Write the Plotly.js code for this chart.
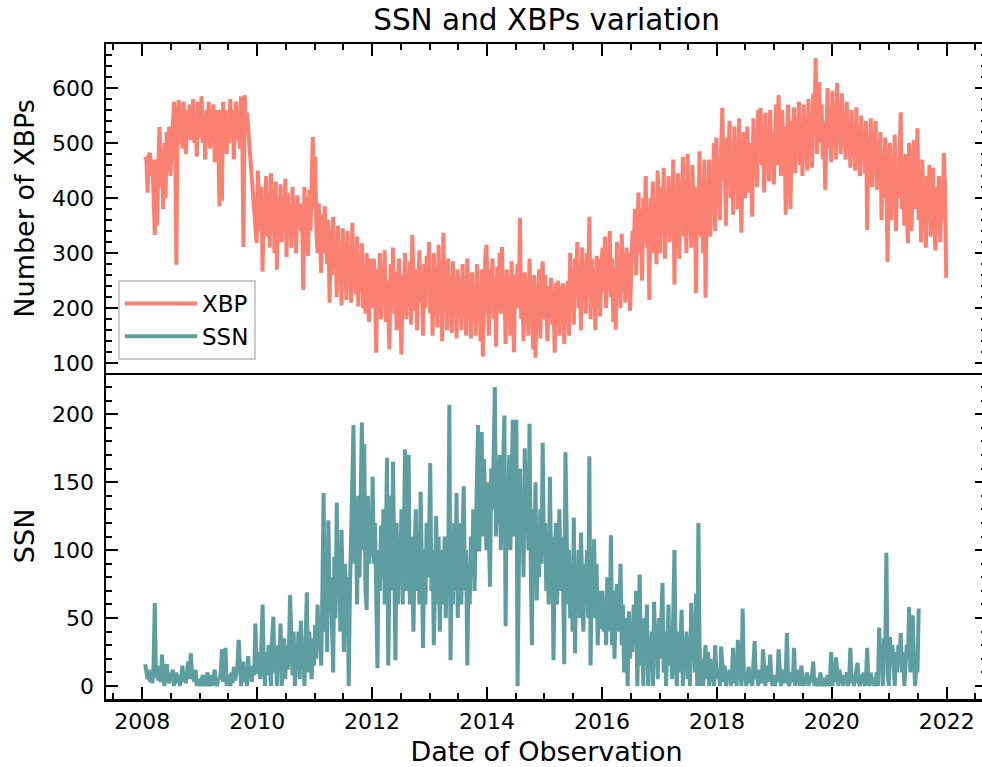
<!DOCTYPE html>
<html>
<head>
<meta charset="utf-8">
<script src="https://cdn.plot.ly/plotly-3.0.1.min.js"></script>
<style>
  html, body { margin: 0; padding: 0; overflow: hidden; background: #fff; }
  #chart { width: 992px; height: 767px; }
</style>
</head>
<body>
<div id="chart"></div>
<script>
// Weekly-ish samples, 48 per calendar year (null = no observation)
const years = [2008, 2009, 2010, 2011, 2012, 2013, 2014, 2015, 2016, 2017, 2018, 2019, 2020, 2021];

// Number of X-ray bright points
const xbp2008 = [null, null, 475, 470, 410, 478, 482, 440, 470, 360, 333, 470,
                 350, 460, 529, 420, 480, 380, 500, 400, 520, 450, 530, 440,
                 500, 560, 575, 520, 279, 540, 578, 500, 560, 490, 575, 530,
                 480, 560, 520, 570, 505, 545, 580, 500, 550, 475, 575, 520];
const xbp2009 = [510, 585, 500, 550, 470, 560, 520, 575, 490, 545, 515, 570,
                 465, 540, 560, 500, 385, 560, 395, 575, 510, 560, 480, 545,
                 500, 580, 520, 560, 470, 550, 575, 505, 540, 490, 585, 520,
                 311, 587, 540, 555, null, null, null, null, null, null, null, 318];
const xbp2010 = [450, 380, 340, 420, 266, 400, 350, 440, 330, 395, 310, 445,
                 360, 410, 300, 430, 270, 390, 340, 425, 320, 400, 350, 435,
                 293, 410, 340, 390, 310, 420, 350, 380, 300, 405, 360, 390,
                 340, 390, 233, 420, 330, 400, 295, 415, 340, 428, 511, 380];
const xbp2011 = [475, 340, 300, 390, 320, 264, 370, 300, 385, 330, 280, 360,
                 210, 340, 260, 366, 280, 330, 220, 350, 250, 310, 205, 345,
                 260, 320, 215, 340, 250, 300, 210, 355, 240, 310, 225, 330,
                 203, 300, 230, 318, 200, 280, 190, 300, 220, 175, 290, 240];
const xbp2012 = [200, 290, 230, 119, 270, 210, 300, 180, 260, 220, 305, 175,
                 250, 200, 125, 280, 210, 310, 190, 265, 160, 240, 290, 200,
                 116, 260, 220, 300, 180, 250, 205, 285, 170, 333, 230, 195,
                 270, 160, 240, 305, 210, 260, 150, 280, 200, 295, 230, 320];
const xbp2013 = [190, 260, 150, 300, 220, 250, 165, 315, 200, 270, 140, 337,
                 210, 260, 160, 290, 190, 240, 155, 285, 215, 250, 145, 270,
                 190, 250, 160, 280, 200, 230, 150, 290, 210, 245, 145, 265,
                 185, 240, 150, 280, 200, 250, 140, 270, 112, 230, 290, 315];
const xbp2014 = [200, 150, 270, 220, 290, 180, 250, 130, 275, 210, 300, 190,
                 311, 200, 250, 135, 270, 215, 240, 150, 285, 200, 120, 260,
                 230, 280, 200, 364, 180, 240, 140, 265, 210, 250, 150, 290,
                 200, 240, 125, 260, 110, 230, 190, 270, 145, 250, 285, 180];
const xbp2015 = [260, 200, 140, 240, 190, 255, 170, 230, 119, 245, 210, 250,
                 150, 240, 190, 245, 135, 230, 200, 250, 150, 300, 220, 260,
                 170, 290, 230, 320, 200, 270, 160, 310, 240, 280, 190, 300,
                 220, 366, 180, 290, 240, 270, 160, 295, 230, 290, 185, 270];
const xbp2016 = [310, 230, 330, 200, 280, 240, 340, 220, 290, 175, 270, 161,
                 320, 230, 280, 200, 335, 250, 290, 210, 310, 240, 300, 195,
                 290, 340, 300, 380, 260, 350, 410, 300, 380, 250, 400, 330,
                 440, 310, 380, 215, 400, 350, 430, 300, 390, 280, 450, 360];
const xbp2017 = [300, 420, 350, 455, 290, 400, 340, 440, 320, 410, 360, 470,
                 243, 400, 350, 445, 290, 420, 370, 475, 330, 410, 300, 480,
                 340, 430, 310, 460, 380, 420, 227, 400, 360, 485, 330, 420,
                 300, 470, 219, 420, 380, 470, 330, 450, 400, 500, 340, 510];
const xbp2018 = [420, 470, 360, 490, 564, 430, 480, 350, 510, 440, 540, 400,
                 480, 370, 530, 450, 500, 380, 545, 420, 337, 490, 520, 400,
                 470, 530, 410, 500, 460, 366, 545, 450, 510, 420, 560, 480,
                 564, 460, 520, 410, 555, 470, 530, 430, 560, 480, 520, 425];
const xbp2019 = [500, 570, 460, 587, 520, 440, 560, 480, 530, 370, 510, 570,
                 460, 380, 540, 480, 565, 445, 530, 500, 575, 460, 520, 440,
                 570, 490, 540, 450, 580, 500, 550, 455, 590, 520, 654, 480,
                 560, 611, 500, 570, 470, 540, 415, 520, 600, 490, 560, 465];
const xbp2020 = [595, 500, 550, 470, 609, 510, 560, 480, 590, 500, 540, 470,
                 575, 490, 530, 455, 560, 480, 520, 450, 565, 470, 510, 440,
                 550, 470, 520, 445, 540, 342, 500, 460, 545, 420, 510, 470,
                 540, 415, 500, 450, 520, 360, 480, 400, 510, 440, 284, 460];
const xbp2021 = [500, 360, 470, 420, 515, 340, 450, 400, 520, 556, 380, 460,
                 350, 480, 400, 318, 500, 420, 340, 440, 505, 380, 420, 527,
                 360, 450, 320, 470, 390, 420, 310, 440, 380, 460, 330, 410,
                 455, 360, 305, 420, 380, 440, 320, 400, 360, 482, 420, 255];

// Sunspot number
const ssn2008 = [null, null, 16, 10, 5, 12, 3, 8, 2, 15, 61, 6,
                 15, 4, 10, 3, 23, 8, 0, 12, 16, 5, 2, 10,
                 4, 12, 0, 6, 10, 2, 8, 0, 5, 15, 3, 8,
                 2, 12, 18, 5, 24, 10, 6, 3, 12, 0, 5, 2];
const ssn2009 = [0, 4, 8, 2, 0, 6, 10, 0, 3, 8, 0, 5,
                 12, 2, 0, 6, 5, 9, 27, 3, 10, 28, 0, 5,
                 8, 0, 10, 2, 14, 4, 8, 15, 34, 5, 0, 10,
                 18, 3, 8, 0, 22, 6, 12, 3, 15, 8, 46, 10];
const ssn2010 = [10, 25, 5, 30, 60, 15, 0, 25, 8, 30, 12, 0,
                 35, 51, 10, 22, 0, 30, 15, 46, 0, 20, 35, 5,
                 30, 12, 25, 67, 20, 8, 40, 0, 30, 15, 40, 5,
                 48, 20, 30, 0, 35, 69, 10, 40, 25, 5, 35, 15];
const ssn2011 = [45, 20, 60, 30, 50, 15, 70, 142, 40, 90, 25, 122,
                 60, 80, 45, 10, 95, 50, 135, 70, 100, 40, 115, 60,
                 25, 90, 50, 80, 0, 70, 105, 150, 192, 90, 120, 60,
                 140, 80, 130, 194, 100, 178, 70, 56, 140, 90, 120, 95];
const ssn2012 = [154, 90, 120, 60, 13, 100, 70, 118, 80, 130, 60, 110,
                 168, 15, 100, 140, 70, 165, 90, 19, 120, 60, 100, 80,
                 130, 60, 110, 174, 70, 120, 170, 60, 110, 90, 40, 100,
                 130, 70, 110, 60, 143, 90, 28, 100, 60, 120, 80, 110];
const ssn2013 = [164, 70, 100, 30, 90, 125, 60, 110, 40, 100, 80, 60,
                 110, 50, 90, 80, 207, 19, 100, 60, 120, 70, 142, 50,
                 120, 80, 60, 110, 147, 70, 100, 15, 90, 60, 110, 80,
                 130, 70, 120, 150, 192, 99, 140, 187, 110, 167, 130, 100];
const ssn2014 = [150, 120, 73, 160, 130, 170, 220, 110, 150, 120, 170, 100,
                 140, 160, 199, 44, 150, 120, 170, 100, 140, 196, 110, 150,
                 196, 0, 130, 160, 100, 140, 80, 175, 120, 150, 100, 193,
                 90, 30, 130, 100, 150, 63, 110, 80, 130, 90, 179, 100];
const ssn2015 = [120, 70, 100, 60, 154, 90, 110, 19, 80, 120, 60, 100,
                 130, 70, 110, 80, 16, 172, 90, 60, 100, 50, 80, 40,
                 124, 24, 80, 60, 100, 50, 113, 70, 40, 90, 60, 100,
                 50, 169, 15, 80, 60, 108, 50, 90, 30, 70, 42, 60];
const ssn2016 = [70, 40, 60, 30, 80, 50, 40, 111, 30, 70, 20, 60,
                 75, 40, 50, 90, 30, 60, 10, 50, 40, 0, 55, 20,
                 45, 25, 60, 30, 70, 0, 50, 82, 15, 40, 0, 50,
                 20, 60, 0, 35, 15, 40, 0, 62, 20, 45, 5, 50];
const ssn2017 = [20, 45, 76, 10, 40, 0, 30, 60, 15, 40, 5, 45,
                 100, 20, 0, 40, 10, 35, 56, 0, 30, 15, 40, 5,
                 35, 0, 61, 20, 40, 10, 68, 0, 120, 30, 0, 20,
                 0, 15, 30, 5, 25, 0, 20, 5, 10, 0, 30, 10];
const ssn2018 = [5, 12, 0, 29, 8, 3, 15, 0, 10, 4, 12, 0,
                 8, 28, 2, 10, 0, 34, 6, 12, 0, 57, 5, 10,
                 0, 8, 14, 2, 10, 0, 18, 33, 5, 10, 0, 12,
                 6, 2, 27, 8, 0, 10, 15, 3, 23, 5, 0, 8];
const ssn2019 = [0, 6, 3, 27, 10, 0, 5, 12, 2, 8, 39, 4,
                 0, 10, 3, 6, 28, 0, 8, 2, 12, 0, 15, 4,
                 0, 6, 2, 10, 0, 5, 3, 8, 18, 0, 6, 2,
                 0, 4, 10, 2, 0, 6, 0, 3, 8, 0, 5, 25];
const ssn2020 = [0, 8, 3, 21, 5, 0, 12, 2, 8, 0, 6, 3,
                 10, 0, 5, 28, 2, 8, 0, 6, 12, 17, 3, 0,
                 8, 2, 10, 0, 5, 28, 3, 0, 10, 2, 6, 0,
                 4, 10, 0, 43, 15, 30, 0, 35, 20, 98, 10, 0];
const ssn2021 = [36, 15, 30, 5, 0, 25, 10, 30, 20, 39, 10, 25,
                 0, 15, 30, 20, 58, 10, 35, 52, 20, 0, 15, 10,
                 57];

const xbpByYear = [xbp2008, xbp2009, xbp2010, xbp2011, xbp2012, xbp2013, xbp2014,
                   xbp2015, xbp2016, xbp2017, xbp2018, xbp2019, xbp2020, xbp2021];
const ssnByYear = [ssn2008, ssn2009, ssn2010, ssn2011, ssn2012, ssn2013, ssn2014,
                   ssn2015, ssn2016, ssn2017, ssn2018, ssn2019, ssn2020, ssn2021];
const SAMPLES_PER_YEAR = 48;

// decimal year -> epoch milliseconds for the date axis
function yearToMs(dy) {
  const y = Math.floor(dy);
  const a = Date.UTC(y, 0, 1), b = Date.UTC(y + 1, 0, 1);
  return a + (dy - y) * (b - a);
}

function flatten(perYear) {
  const xs = [], ys = [];
  perYear.forEach((vals, k) => {
    vals.forEach((v, i) => {
      xs.push(yearToMs(years[k] + (i + 0.5) / SAMPLES_PER_YEAR));
      ys.push(v);
    });
  });
  return { xs, ys };
}

const xbp = flatten(xbpByYear);
const ssn = flatten(ssnByYear);

const FONT = 'DejaVu Sans, Verdana, sans-serif';
const xRange = [yearToMs(2007.37), yearToMs(2022.70)];

const traces = [
  { x: xbp.xs, y: xbp.ys, name: 'XBP', type: 'scatter', mode: 'lines',
    connectgaps: true, xaxis: 'x', yaxis: 'y',
    line: { color: '#FA8072', width: 4 } },
  { x: ssn.xs, y: ssn.ys, name: 'SSN', type: 'scatter', mode: 'lines',
    connectgaps: true, xaxis: 'x2', yaxis: 'y2',
    line: { color: '#5F9EA0', width: 4 } }
];

const tickStyle = {
  ticks: 'inside', ticklen: 12, tickwidth: 2, tickcolor: '#000',
  showline: true, linewidth: 2.5, linecolor: '#000',
  showgrid: false, zeroline: false,
  tickfont: { family: FONT, size: 22, color: '#000' }
};
const minorStyle = { ticks: 'inside', ticklen: 6, tickwidth: 2, tickcolor: '#000', showgrid: false };

const layout = {
  width: 992, height: 767,
  margin: { l: 106, r: 5, t: 44, b: 68 },
  paper_bgcolor: '#fff', plot_bgcolor: '#fff',
  font: { family: FONT, color: '#000' },
  showlegend: true,
  title: {
    text: 'SSN and XBPs variation',
    font: { family: FONT, size: 29.5, color: '#000' },
    x: 0.5, xref: 'paper', y: 0.975, yref: 'container', yanchor: 'middle'
  },
  xaxis: Object.assign({}, tickStyle, {
    type: 'date', anchor: 'y', matches: 'x2', side: 'top',
    range: xRange, showticklabels: false, mirror: true,
    tick0: '2008-01-01', dtick: 'M24',
    minor: Object.assign({}, minorStyle, { dtick: 'M6', tick0: '2008-01-01' })
  }),
  xaxis2: Object.assign({}, tickStyle, {
    type: 'date', anchor: 'y2', side: 'bottom',
    range: xRange, mirror: false,
    tick0: '2008-01-01', dtick: 'M24', tickformat: '%Y',
    ticklabelstandoff: 1,
    minor: Object.assign({}, minorStyle, { dtick: 'M6', tick0: '2008-01-01' }),
    title: { text: 'Date of Observation', font: { family: FONT, size: 27, color: '#000' }, standoff: 14 }
  }),
  yaxis: Object.assign({}, tickStyle, {
    domain: [0.498, 1], anchor: 'x', range: [82.5, 680],
    tick0: 0, dtick: 100, mirror: 'ticks', ticklabelstandoff: 5,
    minor: Object.assign({}, minorStyle, { dtick: 20, tick0: 0 }),
    title: { text: 'Number of XBPs', font: { family: FONT, size: 27, color: '#000' }, standoff: 10 }
  }),
  yaxis2: Object.assign({}, tickStyle, {
    domain: [0, 0.498], anchor: 'x2', range: [-9.6, 230.5],
    tick0: 0, dtick: 50, mirror: 'ticks', ticklabelstandoff: 5,
    minor: Object.assign({}, minorStyle, { dtick: 10, tick0: 0 }),
    title: { text: 'SSN', font: { family: FONT, size: 27, color: '#000' }, standoff: 10 }
  }),
  legend: {
    x: 0.0136, xanchor: 'left', y: 0.5176, yanchor: 'bottom',
    bgcolor: 'rgba(255,255,255,0.85)', bordercolor: '#cccccc', borderwidth: 2,
    font: { family: FONT, size: 23, color: '#000' },
    itemwidth: 72
  }
};

Plotly.newPlot('chart', traces, layout, { displayModeBar: false, staticPlot: true });
</script>
</body>
</html>
